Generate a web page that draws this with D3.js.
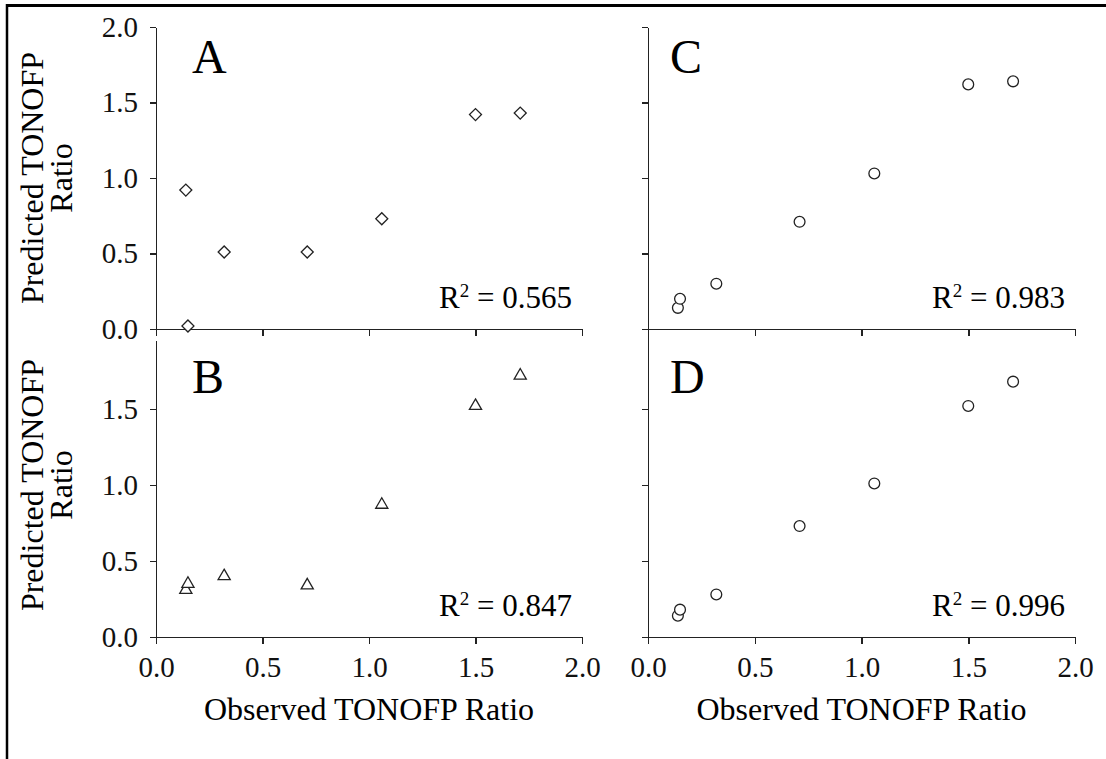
<!DOCTYPE html>
<html>
<head>
<meta charset="utf-8">
<script src="https://cdn.jsdelivr.net/npm/d3@7"></script>
<style>
  html, body { margin: 0; padding: 0; background: #fff; }
  .axis path, .axis line { stroke: #222; stroke-width: 1.5px; shape-rendering: crispEdges; }
</style>
</head>
<body>
<svg></svg>
<script>
// observed ratio is shared by all four panels
const observed = [0.14, 0.15, 0.32, 0.71, 1.06, 1.50, 1.71];
const predictedA = [0.92, 0.02, 0.51, 0.51, 0.73, 1.42, 1.43];
const predictedB = [0.31, 0.35, 0.40, 0.34, 0.87, 1.52, 1.72];
const predictedC = [0.14, 0.20, 0.30, 0.71, 1.03, 1.62, 1.64];
const predictedD = [0.14, 0.18, 0.28, 0.73, 1.01, 1.52, 1.68];
const panelLetters = ['A', 'B', 'C', 'D'];
const rSquared = ['0.565', '0.847', '0.983', '0.996'];
const tickValues = [0, 0.5, 1.0, 1.5, 2.0];
const xTitle = 'Observed TONOFP Ratio';
const yTitle = ['Predicted TONOFP', 'Ratio'];

const [width, height] = [1106, 759];
const serif = '"Liberation Serif", "Times New Roman", Times, serif';

const svg = d3.select('svg')
    .attr('width', width)
    .attr('height', height)
    .attr('font-family', serif)
    .style('display', 'block');

// outer frame (only top and left edges fall inside the page)
svg.append('line').attr('x1', 7).attr('x2', width).attr('y1', 5.5).attr('y2', 5.5)
    .attr('stroke', '#000').attr('stroke-width', 3);
svg.append('line').attr('x1', 7).attr('x2', 7).attr('y1', 4).attr('y2', height)
    .attr('stroke', '#000').attr('stroke-width', 2.5);

// panel layout: column x ranges, row y ranges
const cols = [[156, 582], [648, 1075]];
const rows = [[329, 27], [637, 333]];

const panels = [
    {letter: panelLetters[0], r2: rSquared[0], values: predictedA, col: 0, row: 0, marker: 'diamond'},
    {letter: panelLetters[1], r2: rSquared[1], values: predictedB, col: 0, row: 1, marker: 'triangle'},
    {letter: panelLetters[2], r2: rSquared[2], values: predictedC, col: 1, row: 0, marker: 'circle'},
    {letter: panelLetters[3], r2: rSquared[3], values: predictedD, col: 1, row: 1, marker: 'circle'}
];

const markers = {
    diamond: d3.symbol().type(d3.symbolSquare).size(72)(),
    triangle: d3.symbol().type(d3.symbolTriangle).size(64)(),
    circle: d3.symbol().type(d3.symbolCircle).size(92)()
};

function styleAxis(sel) {
    sel.attr('font-family', serif).attr('font-size', 29);
    sel.selectAll('text').attr('fill', '#111');
}

panels.forEach(p => {
    const x = d3.scaleLinear().domain([0, 2]).range(cols[p.col]);
    const y = d3.scaleLinear().domain([0, 2]).range(rows[p.row]);
    const g = svg.append('g');

    // y axis
    const yAxis = d3.axisLeft(y)
        .tickValues(p.row === 0 ? tickValues : tickValues.slice(0, 4))
        .tickSize(6)
        .tickSizeOuter(0)
        .tickPadding(12)
        .tickFormat(d3.format('.1f'));
    const yg = g.append('g')
        .attr('class', 'axis')
        .attr('transform', `translate(${x(0)},0)`)
        .call(yAxis)
        .call(styleAxis);
    if (p.col === 1) yg.selectAll('text').remove();
    // lower-left y axis stops a little short of the panel above
    if (p.col === 0 && p.row === 1) {
        yg.select('.domain').attr('d', `M0.5,${y(0)}V${y(1.95)}`);
    }

    // x axis
    const xAxis = d3.axisBottom(x)
        .tickValues(tickValues)
        .tickSize(7)
        .tickSizeOuter(0)
        .tickPadding(12)
        .tickFormat(d3.format('.1f'));
    const xg = g.append('g')
        .attr('class', 'axis')
        .attr('transform', `translate(0,${y(0)})`)
        .call(xAxis)
        .call(styleAxis);
    if (p.row === 0) xg.selectAll('text').remove();

    // points
    g.selectAll('path.pt')
        .data(p.values.map((v, i) => [observed[i], v]))
        .enter()
        .append('path')
        .attr('class', 'pt')
        .attr('d', markers[p.marker])
        .attr('transform', d => `translate(${x(d[0])},${y(d[1])})` + (p.marker === 'diamond' ? ' rotate(45)' : ''))
        .attr('fill', '#fff')
        .attr('stroke', '#222')
        .attr('stroke-width', 1.3);

    // panel letter
    g.append('text')
        .attr('x', x(0) + (p.col === 0 ? 36 : 22))
        .attr('y', y(2) + (p.row === 0 ? 46 : 60))
        .attr('font-size', 48)
        .attr('fill', '#000')
        .text(p.letter);

    // R squared
    const r = g.append('text')
        .attr('x', x(2) - 10)
        .attr('y', y(0) - 21)
        .attr('text-anchor', 'end')
        .attr('font-size', 31)
        .attr('fill', '#000');
    r.append('tspan').text('R');
    r.append('tspan').attr('font-size', 19).attr('dy', -11).text('2');
    r.append('tspan').attr('dy', 11).text(` = ${p.r2}`);

    // axis titles
    if (p.row === 1) {
        g.append('text')
            .attr('x', (cols[p.col][0] + cols[p.col][1]) / 2)
            .attr('y', 720)
            .attr('text-anchor', 'middle')
            .attr('font-size', 32)
            .attr('fill', '#000')
            .text(xTitle);
    }
    if (p.col === 0) {
        const cy = (rows[p.row][0] + rows[p.row][1]) / 2;
        yTitle.forEach((t, i) => {
            g.append('text')
                .attr('transform', `translate(${43 + i * 29},${cy}) rotate(-90)`)
                .attr('text-anchor', 'middle')
                .attr('font-size', 32)
                .attr('fill', '#000')
                .text(t);
        });
    }
});
</script>
</body>
</html>
